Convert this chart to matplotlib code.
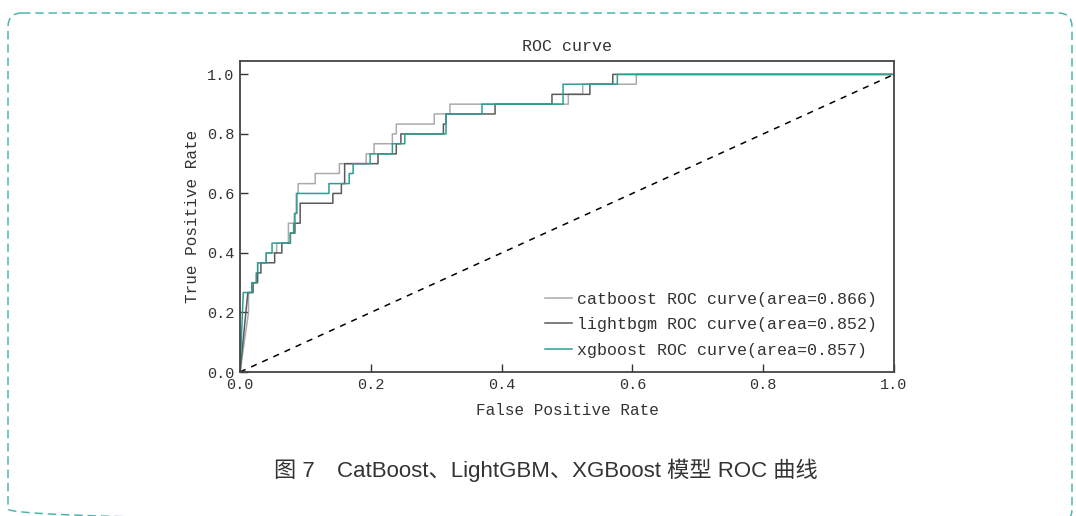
import numpy as np
import matplotlib
matplotlib.use('Agg')
import matplotlib.pyplot as plt
from matplotlib.patches import FancyBboxPatch

# ROC corner points (fpr, tpr)
cb_fpr = [0.000, 0.013, 0.013, 0.018, 0.018, 0.025, 0.025, 0.027, 0.027, 0.040, 0.040,
          0.056, 0.056, 0.074, 0.074, 0.083, 0.083, 0.086, 0.086, 0.089, 0.089, 0.115,
          0.115, 0.152, 0.152, 0.193, 0.193, 0.205, 0.205, 0.233, 0.233, 0.239, 0.239,
          0.297, 0.297, 0.321, 0.321, 0.502, 0.502, 0.524, 0.524, 0.606, 0.606, 1.000]
cb_tpr = [0.000, 0.200, 0.267, 0.267, 0.300, 0.300, 0.333, 0.333, 0.367, 0.367, 0.400,
          0.400, 0.433, 0.433, 0.500, 0.500, 0.533, 0.533, 0.600, 0.600, 0.633, 0.633,
          0.667, 0.667, 0.700, 0.700, 0.733, 0.733, 0.767, 0.767, 0.800, 0.800, 0.833,
          0.833, 0.867, 0.867, 0.900, 0.900, 0.933, 0.933, 0.967, 0.967, 1.000, 1.000]

lg_fpr = [0.000, 0.012, 0.020, 0.020, 0.027, 0.027, 0.032, 0.032, 0.053, 0.053, 0.064,
          0.064, 0.077, 0.077, 0.084, 0.084, 0.092, 0.092, 0.142, 0.142, 0.155, 0.155,
          0.160, 0.160, 0.211, 0.211, 0.239, 0.239, 0.246, 0.246, 0.311, 0.311, 0.315,
          0.315, 0.390, 0.390, 0.477, 0.477, 0.535, 0.535, 0.570, 0.570, 1.000]
lg_tpr = [0.000, 0.267, 0.267, 0.300, 0.300, 0.333, 0.333, 0.367, 0.367, 0.400, 0.400,
          0.433, 0.433, 0.467, 0.467, 0.500, 0.500, 0.567, 0.567, 0.600, 0.600, 0.633,
          0.633, 0.700, 0.700, 0.733, 0.733, 0.767, 0.767, 0.800, 0.800, 0.833, 0.833,
          0.867, 0.867, 0.900, 0.900, 0.933, 0.933, 0.967, 0.967, 1.000, 1.000]

xg_fpr = [0.000, 0.005, 0.018, 0.018, 0.025, 0.025, 0.027, 0.027, 0.040, 0.040, 0.049,
          0.049, 0.077, 0.077, 0.082, 0.082, 0.084, 0.084, 0.087, 0.087, 0.136, 0.136,
          0.167, 0.167, 0.173, 0.173, 0.199, 0.199, 0.233, 0.233, 0.252, 0.252, 0.315,
          0.315, 0.370, 0.370, 0.494, 0.494, 0.577, 0.577, 1.000]
xg_tpr = [0.000, 0.267, 0.267, 0.300, 0.300, 0.333, 0.333, 0.367, 0.367, 0.400, 0.400,
          0.433, 0.433, 0.467, 0.467, 0.500, 0.500, 0.533, 0.533, 0.600, 0.600, 0.633,
          0.633, 0.667, 0.667, 0.700, 0.700, 0.733, 0.733, 0.767, 0.767, 0.800, 0.800,
          0.867, 0.867, 0.900, 0.900, 0.967, 0.967, 1.000, 1.000]

models = ['catboost', 'lightbgm', 'xgboost']
areas = [0.866, 0.852, 0.857]
colors = ['#ababab', '#5a5a5a', '#2e9e92']
ticks = [0.0, 0.2, 0.4, 0.6, 0.8, 1.0]

mono = 'Liberation Mono'
txtcol = '#333333'

fig = plt.figure(figsize=(10.76, 5.16), dpi=100)

# dashed rounded frame round the whole figure (pixel coords)
bg = fig.add_axes([0, 0, 1, 1], zorder=0)
bg.set_xlim(0, 1076)
bg.set_ylim(516, 0)
bg.axis('off')
frame = FancyBboxPatch((8, 13), 1064, 510, boxstyle='round,pad=0,rounding_size=14',
                       fill=False, edgecolor='#4db6ac', lw=1.1, linestyle=(0, (5.5, 3.2)))
bg.add_patch(frame)

# caption
bg.text(546, 470, '图 7　CatBoost、LightGBM、XGBoost 模型 ROC 曲线', ha='center', va='center',
        fontsize=16, color=txtcol, family=['Liberation Sans', 'Noto Sans CJK SC'])

ax = fig.add_axes([240/1076, 1 - 372/516, 654/1076, 311/516], zorder=1)

curves = [(cb_fpr, cb_tpr), (lg_fpr, lg_tpr), (xg_fpr, xg_tpr)]
for (f, t), name, a, c in zip(curves, models, areas, colors):
    ax.plot(f, t, color=c, lw=1.1, label='%s ROC curve(area=%.3f)' % (name, a))

ax.plot([0, 1], [0, 1], color='black', lw=1.1, linestyle=(0, (4, 4)))

ax.set_xlim(0, 1)
ax.set_ylim(0, 1.045)
ax.set_xticks(ticks)
ax.set_yticks(ticks)
ax.set_xticklabels(['%.1f' % v for v in ticks], family=mono, fontsize=11, color=txtcol)
ax.set_yticklabels(['%.1f' % v for v in ticks], family=mono, fontsize=11, color=txtcol)
ax.tick_params(direction='in', length=6, width=1.0, color='#333333', pad=4)
for s in ax.spines.values():
    s.set_color('#444444')
    s.set_linewidth(1.3)

ax.set_xlabel('False Positive Rate', family=mono, fontsize=11.5, color=txtcol, labelpad=8)
ax.set_ylabel('True Positive Rate', family=mono, fontsize=11.5, color=txtcol, labelpad=5)
ax.set_title('ROC curve', family=mono, fontsize=12, color=txtcol, pad=7)

leg = ax.legend(loc='upper left', frameon=False, prop={'family': mono, 'size': 12},
                handlelength=1.6, handletextpad=0.3, labelspacing=0.62,
                borderpad=0, borderaxespad=0,
                bbox_to_anchor=((545 - 240) / 654, (372 - 292) / 311))
for txt in leg.get_texts():
    txt.set_color(txtcol)

fig.savefig('out.png', dpi=100)
